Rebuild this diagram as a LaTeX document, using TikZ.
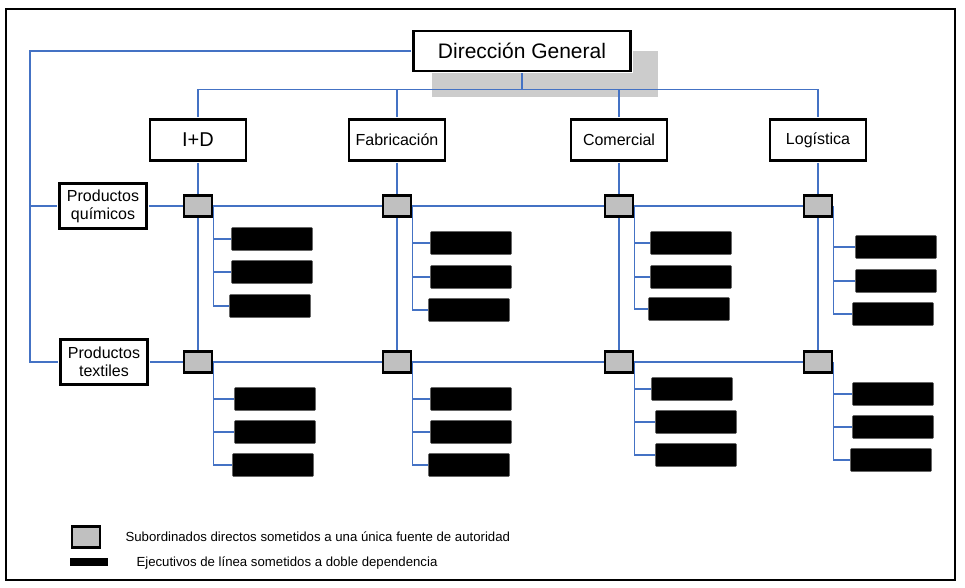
\documentclass[tikz,border=0pt]{standalone}
\usepackage{fontspec}
\setmainfont{Liberation Sans}
\usetikzlibrary{backgrounds, calc}
\definecolor{linkblue}{RGB}{68, 114, 196}
\definecolor{unitgray}{RGB}{192, 192, 192}
\definecolor{shadowgray}{RGB}{204, 204, 204}

\begin{document}
\begin{tikzpicture}[
    x=1pt, y=-1pt,
    headbox/.style={draw, fill=white, line width=3.8pt, inner sep=0pt},
    dept/.style={headbox, minimum width=97pt, minimum height=42pt, font=\fontsize{16}{19}\selectfont},
    prod/.style={headbox, minimum width=88pt, minimum height=46pt, align=center, font=\fontsize{16}{18}\selectfont},
    unit/.style={draw, line width=2.4pt, fill=unitgray, minimum width=28pt, minimum height=21pt, inner sep=0pt},
    exec/.style={draw=black!60, fill=black, line width=0.6pt, rounded corners=1pt, minimum width=81pt, minimum height=23pt, inner sep=0pt},
    link/.style={draw=linkblue, line width=1.1pt},
    legend/.style={anchor=west, font=\fontsize{13.2}{16}\selectfont},
]
    \useasboundingbox (0,0) rectangle (965,588);
    \draw[line width=1.6pt] (6,9) rectangle (955,580);

    % Top of the chart
    \node[headbox, minimum width=218pt, minimum height=41pt, font=\fontsize{21}{25}\selectfont] (dg) at (522,51) {Dirección General};
    \begin{scope}[on background layer]
        \fill[shadowgray] ($(dg.north west)+(21,22)$) rectangle ($(dg.south east)+(25,24)$);
    \end{scope}

    % Departments
    \node[dept, font=\fontsize{20}{24}\selectfont] (id) at (198,140) {I+D};
    \node[dept] (fab) at (397,140) {Fabricación};
    \node[dept] (com) at (619,140) {Comercial};
    \node[dept] (log) at (818,140) {Logística};

    % Product lines
    \node[prod] (quim) at (103,206) {Productos\\químicos};
    \node[prod] (text) at (104,362) {Productos\\textiles};

    % Split the heavy borders into a double frame
    \foreach \b in {dg, id, fab, com, log, quim, text}
        \draw[white, line width=1pt] ([shift={(0.5pt,-0.5pt)}]\b.north west) rectangle ([shift={(-0.5pt,0.5pt)}]\b.south east);

    % Direct subordinates
    \node[unit] (idA) at (198,206) {};
    \node[unit] (fabA) at (397,206) {};
    \node[unit] (comA) at (619,206) {};
    \node[unit] (logA) at (818,206) {};
    \node[unit] (idB) at (198,362) {};
    \node[unit] (fabB) at (397,362) {};
    \node[unit] (comB) at (619,362) {};
    \node[unit] (logB) at (818,362) {};

    % Line executives, I+D
    \node[exec] (idA1) at (272,239) {};
    \node[exec] (idA2) at (272,272) {};
    \node[exec] (idA3) at (270,306) {};
    \node[exec] (idB1) at (275,399) {};
    \node[exec] (idB2) at (275,432) {};
    \node[exec] (idB3) at (273,465) {};

    % Line executives, Fabricación
    \node[exec] (fabA1) at (471,243) {};
    \node[exec] (fabA2) at (471,277) {};
    \node[exec] (fabA3) at (469,310) {};
    \node[exec] (fabB1) at (471,399) {};
    \node[exec] (fabB2) at (471,432) {};
    \node[exec] (fabB3) at (469,465) {};

    % Line executives, Comercial
    \node[exec] (comA1) at (691,243) {};
    \node[exec] (comA2) at (691,277) {};
    \node[exec] (comA3) at (689,309) {};
    \node[exec] (comB1) at (692,389) {};
    \node[exec] (comB2) at (696,422) {};
    \node[exec] (comB3) at (696,455) {};

    % Line executives, Logística
    \node[exec] (logA1) at (896,247) {};
    \node[exec] (logA2) at (896,281) {};
    \node[exec] (logA3) at (893,314) {};
    \node[exec] (logB1) at (893,394) {};
    \node[exec] (logB2) at (893,427) {};
    \node[exec] (logB3) at (891,460) {};

    % Connectors from the top
    \draw[link] (dg.south) -- ++(0,16) coordinate (bus);
    \draw[link] (id.north) |- (bus) -| (log.north);
    \draw[link] (fab.north) -- (fab.north |- bus);
    \draw[link] (com.north) -- (com.north |- bus);
    \coordinate (spine) at (30,51);
    \draw[link] (dg.west) -- (spine) |- (quim.west);
    \draw[link] (spine) |- (text.west);

    % Department columns
    \draw[link] (id.south) -- (idA.north);   \draw[link] (idA.south) -- (idB.north);
    \draw[link] (fab.south) -- (fabA.north); \draw[link] (fabA.south) -- (fabB.north);
    \draw[link] (com.south) -- (comA.north); \draw[link] (comA.south) -- (comB.north);
    \draw[link] (log.south) -- (logA.north); \draw[link] (logA.south) -- (logB.north);

    % Product rows
    \draw[link] (quim.east) -- (idA.west) (idA.east) -- (fabA.west)
        (fabA.east) -- (comA.west) (comA.east) -- (logA.west);
    \draw[link] (text.east) -- (idB.west) (idB.east) -- (fabB.west)
        (fabB.east) -- (comB.west) (comB.east) -- (logB.west);

    % Executives under each subordinate
    \draw[link] (idA.east) |- (idA1.west) (idA.east) |- (idA2.west) (idA.east) |- (idA3.west);
    \draw[link] (idB.east) |- (idB1.west) (idB.east) |- (idB2.west) (idB.east) |- (idB3.west);
    \draw[link] (fabA.east) |- (fabA1.west) (fabA.east) |- (fabA2.west) (fabA.east) |- (fabA3.west);
    \draw[link] (fabB.east) |- (fabB1.west) (fabB.east) |- (fabB2.west) (fabB.east) |- (fabB3.west);
    \draw[link] (comA.east) |- (comA1.west) (comA.east) |- (comA2.west) (comA.east) |- (comA3.west);
    \draw[link] (comB.east) |- (comB1.west) (comB.east) |- (comB2.west) (comB.east) |- (comB3.west);
    \draw[link] (logA.east) |- (logA1.west) (logA.east) |- (logA2.west) (logA.east) |- (logA3.west);
    \draw[link] (logB.east) |- (logB1.west) (logB.east) |- (logB2.west) (logB.east) |- (logB3.west);

    % Legend
    \node[unit] (keyunit) at (86,537) {};
    \node[fill=black, minimum width=38pt, minimum height=8pt, inner sep=0pt] (keyexec) at (89,562) {};
    \node[legend] at (122,537) {Subordinados directos sometidos a una única fuente de autoridad};
    \node[legend] at (133,563) {Ejecutivos de línea sometidos a doble dependencia};
\end{tikzpicture}
\end{document}
